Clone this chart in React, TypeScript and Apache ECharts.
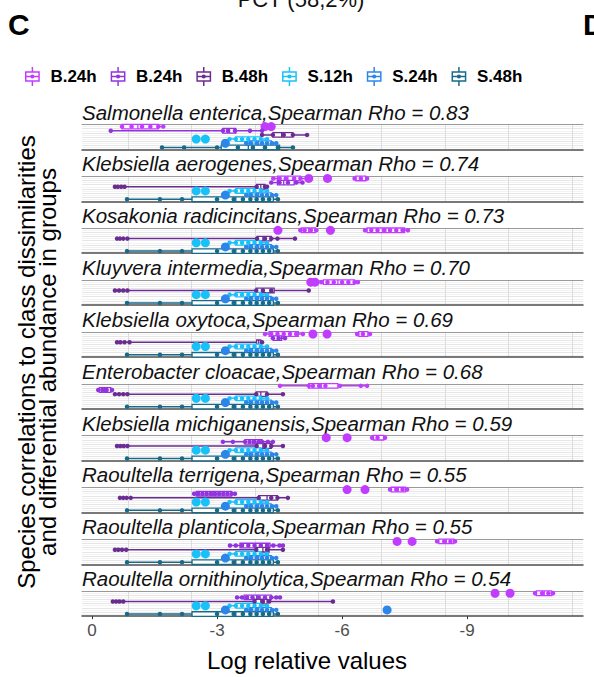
import React, { useEffect, useRef } from 'react';
import * as echarts from 'echarts';

const speciesNames = [
  'Salmonella enterica', 'Klebsiella aerogenes', 'Kosakonia radicincitans', 'Kluyvera intermedia',
  'Klebsiella oxytoca', 'Enterobacter cloacae', 'Klebsiella michiganensis', 'Raoultella terrigena',
  'Raoultella planticola', 'Raoultella ornithinolytica',
];
const spearmanRho = ['0.83', '0.74', '0.73', '0.70', '0.69', '0.68', '0.59', '0.55', '0.55', '0.54'];
const groupNames = ['B.24h#1', 'B.24h', 'B.48h', 'S.12h', 'S.24h', 'S.48h'];
const groupColors = ['#c13cff', '#9233de', '#6b2c91', '#18c2f8', '#2b86ea', '#176a88'];
const xTickValues = [0, -3, -6, -9];

// boxes: [low whisker, q1, median, q3, high whisker]
const b24aBoxes = [
  [[-0.7, -0.72, -1.1, -1.59, -1.71]],
  [[-4.3, -4.45, -4.7, -5.0, -5.1], [-6.3, -6.33, -6.45, -6.57, -6.6]],
  [[-5.0, -5.02, -5.2, -5.36, -5.38], [-6.55, -6.6, -7.05, -7.5, -7.58]],
  [[-5.5, -5.55, -5.9, -6.3, -6.38]],
  [[-4.15, -4.25, -4.6, -4.95, -5.06], [-6.36, -6.4, -6.5, -6.62, -6.67]],
  [[-4.51, -5.2, -5.5, -5.9, -6.6]],
  [[-6.72, -6.75, -6.85, -7.0, -7.03]],
  [[-7.15, -7.18, -7.35, -7.52, -7.56]],
  [[-8.28, -8.32, -8.5, -8.68, -8.71]],
  [[-10.63, -10.66, -10.85, -11.03, -11.06]],
];
const b24aPoints = [
  [-0.72, -0.95, -1.2, -1.4, -1.59, -1.71],
  [-4.35, -4.5, -4.65, -4.85, -5.0, -6.3, -6.45, -6.6],
  [-5.0, -5.1, -5.25, -5.38, -6.55, -6.7, -6.85, -7.0, -7.15, -7.3, -7.45, -7.58],
  [-5.5, -5.65, -5.8, -6.0, -6.15, -6.3, -6.38],
  [-4.15, -4.3, -4.45, -4.6, -4.75, -4.9, -5.06, -6.36, -6.5, -6.67],
  [-4.51, -5.2, -5.3, -5.45, -5.6, -5.95, -6.45, -6.6],
  [-6.72, -6.85, -7.03],
  [-7.15, -7.3, -7.45, -7.56],
  [-8.28, -8.45, -8.6, -8.71],
  [-10.63, -10.8, -10.95, -11.06],
];
const b24aOutliers = [
  [-4.15, -4.3], [-5.2, -5.65], [-4.46, -5.72], [-5.25, -5.35], [-5.3, -5.64],
  [], [-5.62, -6.12], [-6.12, -6.55], [-7.32, -7.68], [-9.67, -10.03],
];

const b24bBoxes = [
  [[-0.45, -3.14, -3.3, -3.45, -4.08]],
  [[-4.3, -4.45, -4.6, -4.85, -5.05]],
  [],
  [],
  [[-4.3, -4.35, -4.45, -4.55, -4.63]],
  [[-0.15, -0.18, -0.3, -0.45, -0.48]],
  [[-3.14, -3.67, -3.85, -4.08, -4.34]],
  [[-2.45, -2.5, -2.9, -3.35, -3.43]],
  [[-3.31, -3.55, -3.9, -4.27, -4.58]],
  [[-3.48, -3.65, -3.95, -4.3, -4.51]],
];
const b24bPoints = [
  [-0.45, -3.14, -3.26, -3.43, -3.79, -4.08],
  [-4.3, -4.5, -4.7, -4.9, -5.05],
  [],
  [],
  [-4.34, -4.48, -4.63],
  [-0.15, -0.25, -0.35, -0.48],
  [-3.14, -3.38, -3.67, -3.78, -3.9, -4.0, -4.08, -4.22, -4.34],
  [-2.45, -2.55, -2.65, -2.75, -2.85, -2.95, -3.05, -3.15, -3.25, -3.35, -3.43],
  [-3.31, -3.45, -3.6, -3.75, -3.9, -4.05, -4.2, -4.35, -4.5, -4.58],
  [-3.48, -3.6, -3.72, -3.85, -4.0, -4.15, -4.3, -4.42, -4.51],
];
const b24bOutliers = [[], [], [], [], [], [], [], [], [], []];

const b48Boxes = [
  [[-4.08, -4.34, -4.55, -4.82, -5.16]],
  [[-0.55, -3.95, -4.05, -4.15, -4.2]],
  [[-0.6, -3.96, -4.1, -4.3, -4.87]],
  [[-0.55, -3.94, -4.1, -4.37, -5.2]],
  [[-0.6, -3.95, -4.0, -4.05, -4.08]],
  [[-0.55, -3.94, -4.05, -4.2, -4.58]],
  [[-0.6, -3.95, -4.1, -4.3, -4.58]],
  [[-0.67, -4.0, -4.2, -4.45, -4.7]],
  [[-0.55, -3.94, -4.1, -4.25, -4.58]],
  [[-0.5, -3.9, -4.05, -4.2, -5.78]],
];
const b48Points = [
  [-4.08, -4.34, -4.6, -4.82, -5.16],
  [-0.55, -0.62, -0.7, -0.78, -3.95, -4.15, -4.2],
  [-0.6, -0.67, -0.75, -0.85, -3.96, -4.15, -4.3, -4.45, -4.87],
  [-0.55, -0.65, -0.75, -0.85, -3.94, -4.1, -4.3, -5.2],
  [-0.6, -0.68, -0.78, -0.9, -4.08],
  [-0.55, -0.65, -0.75, -0.85, -3.94, -4.2, -4.58],
  [-0.6, -0.68, -0.76, -0.85, -3.95, -4.15, -4.3, -4.58],
  [-0.67, -0.75, -0.83, -0.93, -4.0, -4.3, -4.45, -4.7],
  [-0.55, -0.63, -0.72, -0.82, -3.94, -4.2, -4.58],
  [-0.5, -0.58, -0.66, -0.75, -3.9, -4.1, -4.25, -5.78],
];
const b48Outliers = [[], [], [], [], [], [], [], [], [], []];

const s12Box = [[-3.3, -3.45, -3.75, -4.05, -4.2]];
const s12Pts = [-3.3, -3.45, -3.6, -3.75, -3.9, -4.05, -4.2];
const s12Out = [-2.5, -2.72];
const s24Box = [[-3.7, -3.78, -4.0, -4.3, -4.42]];
const s24Pts = [-3.7, -3.82, -3.95, -4.08, -4.2, -4.32, -4.42];
const s24Out = [-3.2];
const s24OutOrnithinolytica = [-3.2, -7.08];
const s48Box = [[-0.84, -2.4, -3.45, -4.35, -4.46]];
const s48Pts = [-0.84, -1.63, -2.16, -3.0, -3.4, -3.62, -3.8, -3.95, -4.1, -4.25, -4.46];
const s48BoxSalmonella = [[-1.68, -3.1, -3.75, -4.5, -4.82]];
const s48PtsSalmonella = [-1.68, -2.21, -3.0, -3.5, -3.86, -4.15, -4.46, -4.82];

const s12Boxes = [s12Box, s12Box, s12Box, s12Box, s12Box, s12Box, s12Box, s12Box, s12Box, s12Box];
const s12Points = [s12Pts, s12Pts, s12Pts, s12Pts, s12Pts, s12Pts, s12Pts, s12Pts, s12Pts, s12Pts];
const s12Outliers = [s12Out, s12Out, s12Out, s12Out, s12Out, s12Out, s12Out, s12Out, s12Out, s12Out];
const s24Boxes = [s24Box, s24Box, s24Box, s24Box, s24Box, s24Box, s24Box, s24Box, s24Box, s24Box];
const s24Points = [s24Pts, s24Pts, s24Pts, s24Pts, s24Pts, s24Pts, s24Pts, s24Pts, s24Pts, s24Pts];
const s24Outliers = [s24Out, s24Out, s24Out, s24Out, s24Out, s24Out, s24Out, s24Out, s24Out, s24OutOrnithinolytica];
const s48Boxes = [s48BoxSalmonella, s48Box, s48Box, s48Box, s48Box, s48Box, s48Box, s48Box, s48Box, s48Box];
const s48Points = [s48PtsSalmonella, s48Pts, s48Pts, s48Pts, s48Pts, s48Pts, s48Pts, s48Pts, s48Pts, s48Pts];
const s48Outliers = [[], [], [], [], [], [], [], [], [], []];

const groupBoxes = [b24aBoxes, b24bBoxes, b48Boxes, s12Boxes, s24Boxes, s48Boxes];
const groupPoints = [b24aPoints, b24bPoints, b48Points, s12Points, s24Points, s48Points];
const groupOutliers = [b24aOutliers, b24bOutliers, b48Outliers, s12Outliers, s24Outliers, s48Outliers];

const boxIcon =
  'path://M7.3 0 L8.7 0 L8.7 4 L7.3 4 Z M7.3 14 L8.7 14 L8.7 18 L7.3 18 Z ' +
  'M1 4 L15 4 L15 14 L1 14 Z M2.4 5.4 L2.4 12.6 L13.6 12.6 L13.6 5.4 Z ' +
  'M2.4 8.4 L13.6 8.4 L13.6 9.6 L2.4 9.6 Z M8 7 A2 2 0 1 1 8 11 A2 2 0 1 1 8 7 Z';

const FONT = 'Liberation Sans';

export default function App() {
  const ref = useRef<HTMLDivElement>(null);
  useEffect(() => {
    document.body.style.margin = '0';
    const chart = echarts.init(ref.current!, null, { renderer: 'svg' });
    const nF = speciesNames.length;
    const period = 51.85;
    const panelH = 25;
    const grids: any[] = [];
    const xAxes: any[] = [];
    const yAxes: any[] = [];
    const series: any[] = [];
    const graphics: any[] = [];
    for (let f = 0; f < nF; f++) {
      const bottom = 149.5 + period * f;
      const top = bottom - panelH;
      const last = f === nF - 1;
      grids.push({ left: 82, width: 501, top, height: panelH });
      xAxes.push({
        type: 'value', gridIndex: f, min: -11.78, max: 0.24, inverse: true, splitNumber: 4,
        position: 'bottom',
        axisLine: { show: true, onZero: false, lineStyle: { color: '#4d4d4d', width: 1.5 } },
        axisTick: { show: last, length: 3, customValues: xTickValues, lineStyle: { color: '#333' } },
        axisLabel: {
          show: last, customValues: xTickValues,
          color: '#4d4d4d', fontSize: 17, margin: 6, fontFamily: FONT,
        },
        splitLine: { show: false },
      });
      xAxes.push({
        type: 'value', gridIndex: f, min: 0.2744, max: 8.177, splitNumber: 8, position: 'top',
        axisLine: { show: true, onZero: false, lineStyle: { color: '#999', width: 1 } },
        axisTick: { show: false }, axisLabel: { show: false },
        splitLine: { show: true, showMinLine: false, showMaxLine: false, lineStyle: { color: '#dcdcdc', width: 1 } },
      });
      yAxes.push({
        type: 'value', gridIndex: f, min: 0.5, max: 6.5, interval: 0.5, inverse: true,
        axisLine: { show: false }, axisTick: { show: false }, axisLabel: { show: false },
        splitLine: { show: true, showMinLine: false, showMaxLine: false, lineStyle: { color: ['#f3f3f3', '#e6e6e6'], width: 1 } },
      });
      for (let g = 0; g < groupNames.length; g++) {
        const color = groupColors[g];
        const row = g + 1;
        series.push({
          type: 'custom', name: groupNames[g], xAxisIndex: 2 * f, yAxisIndex: f, silent: true,
          itemStyle: { color },
          encode: { x: [0, 1, 2, 3, 4], y: 5 },
          data: groupBoxes[g][f].map((b: number[]) => [...b, row]),
          renderItem: (params: any, api: any) => {
            const r = api.value(5);
            const lo = api.coord([api.value(0), r]);
            const q1 = api.coord([api.value(1), r]);
            const md = api.coord([api.value(2), r]);
            const q3 = api.coord([api.value(3), r]);
            const hi = api.coord([api.value(4), r]);
            const h = 4.6;
            return {
              type: 'group',
              children: [
                { type: 'line', shape: { x1: lo[0], y1: lo[1], x2: hi[0], y2: hi[1] }, style: { stroke: color, lineWidth: 1.5 } },
                {
                  type: 'rect',
                  shape: { x: Math.min(q1[0], q3[0]), y: q1[1] - h / 2, width: Math.abs(q3[0] - q1[0]), height: h },
                  style: { fill: '#fff', stroke: color, lineWidth: 1.3 },
                },
                { type: 'line', shape: { x1: md[0], y1: md[1] - h / 2, x2: md[0], y2: md[1] + h / 2 }, style: { stroke: color, lineWidth: 1.3 } },
              ],
            };
          },
        });
        series.push({
          type: 'scatter', name: groupNames[g], xAxisIndex: 2 * f, yAxisIndex: f, silent: true,
          symbolSize: 4.5,
          itemStyle: { color, opacity: 1 },
          data: [
            ...groupPoints[g][f].map((v: number) => [v, row]),
            ...groupOutliers[g][f].map((v: number) => ({ value: [v, row], symbolSize: 9 })),
          ],
        });
      }
      graphics.push({
        type: 'text', x: 82, y: bottom - 37.5,
        style: {
          text: `${speciesNames[f]},Spearman Rho = ${spearmanRho[f]}`,
          fontSize: 20.5, fontStyle: 'italic', fontFamily: FONT, fill: '#111',
          align: 'left', textAlign: 'left', verticalAlign: 'middle', textVerticalAlign: 'middle',
        },
      });
    }
    graphics.push(
      {
        type: 'text', x: 8, y: 24,
        style: { text: 'C', fontSize: 30, fontWeight: 'bold', fontFamily: FONT, fill: '#000', verticalAlign: 'middle', textVerticalAlign: 'middle' },
      },
      {
        type: 'text', x: 583, y: 24,
        style: { text: 'D', fontSize: 30, fontWeight: 'bold', fontFamily: FONT, fill: '#000', verticalAlign: 'middle', textVerticalAlign: 'middle' },
      },
      {
        type: 'text', x: 301, y: -1,
        style: {
          text: 'PCT (58,2%)', fontSize: 22, fontFamily: FONT, fill: '#111',
          align: 'center', textAlign: 'center', verticalAlign: 'middle', textVerticalAlign: 'middle',
        },
      },
      {
        type: 'text', x: 307, y: 660,
        style: {
          text: 'Log relative values', fontSize: 24, fontFamily: FONT, fill: '#000',
          align: 'center', textAlign: 'center', verticalAlign: 'middle', textVerticalAlign: 'middle',
        },
      },
      {
        type: 'text', x: 37, y: 362, rotation: Math.PI / 2,
        style: {
          text: 'Species correlations to class dissimilarities\nand differential abundance in groups',
          fontSize: 24, lineHeight: 21.5, fontFamily: FONT, fill: '#000',
          align: 'center', textAlign: 'center', verticalAlign: 'middle', textVerticalAlign: 'middle',
        },
      },
    );
    chart.setOption({
      animation: false,
      backgroundColor: '#fff',
      legend: {
        top: 67, left: 25, padding: 0, itemWidth: 16, itemHeight: 19, itemGap: 14,
        selectedMode: false,
        data: groupNames.map((n, i) => ({ name: n, icon: boxIcon, itemStyle: { color: groupColors[i] } })),
        formatter: (n: string) => n.replace('#1', ''),
        textStyle: { fontFamily: FONT, fontWeight: 'bold', fontSize: 17, color: '#000', padding: [0, 0, 0, 5] },
      },
      grid: grids,
      xAxis: xAxes,
      yAxis: yAxes,
      series,
      graphic: graphics,
    });
    return () => chart.dispose();
  }, []);
  return <div ref={ref} style={{ width: 594, height: 677 }} />;
}
